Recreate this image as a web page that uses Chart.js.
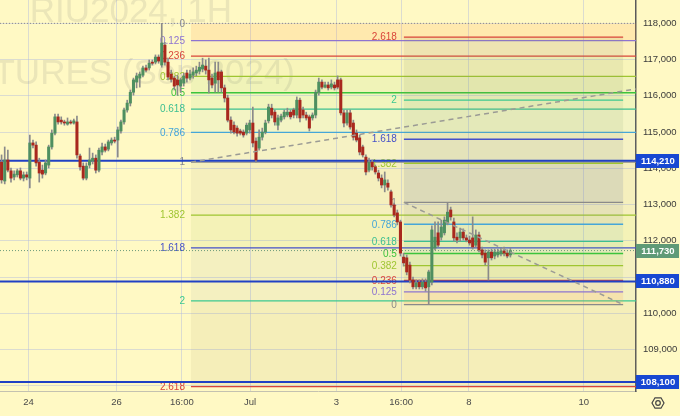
<!DOCTYPE html>
<html>
<head>
<meta charset="utf-8">
<title>RTS futures 1H</title>
<script src="https://cdn.jsdelivr.net/npm/chart.js@4.4.1/dist/chart.umd.min.js"></script>
<style>
  html, body { margin: 0; padding: 0; background: #fff9c4; }
  canvas { display: block; }
</style>
</head>
<body>
<canvas id="chart" width="680" height="416"></canvas>
<script>
// hourly candles (index = candle number)
const opens = [
  114170, 113650, 114230, 113930, 113760, 113820, 113930, 113730, 113820, 113730,
  114700, 114640, 114170, 113950, 113870, 114090, 114590, 114970, 115420, 115330,
  115280, 115220, 115280, 115250, 115280, 114340, 114060, 113730, 114090, 114200,
  114280, 113950, 114450, 114590, 114530, 114700, 114780, 114780, 115030, 115280,
  115610, 115800, 116100, 116380, 116490, 116570, 116770, 116770, 116930, 116930,
  117070, 116850, 117400, 116930, 116600, 116490, 116440, 116270, 116350, 116630,
  116490, 116570, 116630, 116680, 116740, 116820, 116710, 116490, 116350, 116660,
  116660, 116220, 115940, 115330, 115190, 115110, 115030, 115000, 114970, 115060,
  115250, 114750, 114560, 114860, 115000, 115310, 115660, 115550, 115190, 115330,
  115420, 115470, 115550, 115610, 115470, 115880, 115610, 115470, 115420, 115390,
  115470, 116100, 116380, 116240, 116300, 116240, 116300, 116440, 116440, 115530,
  115250, 115530, 115250, 114970, 114840, 114590, 114310, 113950, 114170, 114040,
  113870, 113730, 113540, 113590, 113350, 112990, 112770, 112520, 111550, 111530,
  111330, 110920, 110730, 110860, 110730, 110860, 110730, 110860, 111800, 112220,
  112100, 112220, 112490, 112850, 112520, 112100, 112080, 112240, 112080, 112020,
  112080, 111880, 112160, 111750, 111660, 111530, 111690, 111580, 111610, 111640,
  111720, 111660, 111610
];
const highs = [
  114370, 114590, 114500, 114010, 113930, 113980, 114010, 113900, 113900, 114920,
  114780, 114730, 114280, 114090, 114230, 114640, 115060, 115500, 115500, 115420,
  115330, 115390, 115330, 115360, 115440, 114390, 114150, 114150, 114560, 114420,
  114370, 114560, 114700, 114670, 114780, 114840, 114860, 115140, 115330, 115660,
  115880, 116160, 116490, 116630, 116660, 116820, 116850, 116990, 116990, 117130,
  117130, 118000, 117480, 117040, 116710, 116550, 116570, 116490, 116630, 116710,
  116710, 116770, 116820, 116930, 117040, 116990, 117040, 116600, 116930, 116930,
  116710, 116300, 116020, 115420, 115280, 115170, 115080, 115060, 115250, 115330,
  115690, 114840, 115060, 115110, 115330, 115770, 115770, 115610, 115470, 115500,
  115610, 115660, 115610, 115660, 115970, 115940, 115690, 115550, 115470, 115530,
  116160, 116490, 116440, 116380, 116380, 116440, 116380, 116550, 116490, 115610,
  115610, 115610, 115330, 115060, 114920, 114640, 114370, 114280, 114230, 114090,
  113950, 113820, 113900, 113680, 113400, 113040, 112850, 112570, 111660, 111610,
  111410, 111000, 110920, 110920, 110950, 110950, 111190, 112410, 112520, 112520,
  112570, 112660, 113060, 112930, 112630, 112220, 112350, 112330, 112160, 112130,
  112660, 112300, 112240, 111830, 111750, 111750, 111770, 111770, 111770, 111800,
  111830, 111750, 111800
];
const lows = [
  113590, 113570, 113900, 113620, 113680, 113760, 113680, 113650, 113680, 113460,
  114560, 114060, 113620, 113730, 113820, 114010, 114530, 114920, 115220, 115220,
  115190, 115190, 115220, 115220, 114280, 113950, 113680, 113680, 114010, 114120,
  113870, 113900, 114370, 114450, 114480, 114640, 114700, 114310, 114970, 115220,
  115550, 115720, 116020, 116220, 116240, 116520, 116660, 116710, 116850, 116880,
  116900, 116790, 116850, 116440, 116380, 116160, 116020, 116100, 116270, 116380,
  116440, 116490, 116550, 116600, 116660, 116600, 116080, 116220, 116100, 116100,
  116100, 115830, 115280, 114970, 114950, 114890, 114920, 114860, 114920, 114970,
  114590, 114170, 114500, 114780, 114950, 115250, 115390, 115190, 115060, 115280,
  115360, 115420, 115360, 115390, 115390, 115280, 115390, 115330, 115030, 115330,
  115390, 116020, 116190, 116220, 116160, 116190, 116160, 116190, 115470, 115140,
  115190, 115080, 114780, 114730, 114370, 114310, 113820, 113900, 113950, 113840,
  113650, 113460, 113350, 113400, 112930, 112660, 112440, 111580, 111300, 111060,
  110840, 110670, 110670, 110670, 110670, 110610, 110240, 110780, 111750, 111830,
  112020, 112160, 112440, 112570, 111990, 111940, 111990, 112020, 111970, 111880,
  111770, 111830, 111690, 111530, 111330, 110920, 111470, 111500, 111550, 111580,
  111580, 111530, 111550
];
const closes = [
  113680, 114230, 113950, 113730, 113840, 113930, 113730, 113820, 113760, 114700,
  114640, 114150, 113870, 113840, 114150, 114590, 114970, 115420, 115280, 115280,
  115250, 115280, 115250, 115310, 114370, 114040, 113730, 114060, 114230, 114280,
  113950, 114500, 114590, 114500, 114730, 114780, 114750, 115060, 115280, 115610,
  115800, 116100, 116440, 116550, 116600, 116770, 116710, 116900, 116900, 117070,
  116960, 117460, 116930, 116520, 116460, 116270, 116300, 116440, 116550, 116490,
  116600, 116660, 116710, 116790, 116850, 116710, 116440, 116300, 116630, 116440,
  116220, 115940, 115330, 115060, 115000, 114970, 114970, 114920, 115190, 115250,
  114700, 114230, 114860, 115000, 115250, 115690, 115470, 115280, 115390, 115440,
  115550, 115550, 115420, 115470, 115880, 115390, 115470, 115390, 115110, 115470,
  116100, 116380, 116240, 116300, 116220, 116330, 116220, 116240, 115530, 115250,
  115530, 115140, 114860, 114780, 114450, 114370, 113900, 114170, 114040, 113900,
  113730, 113540, 113680, 113480, 112990, 112710, 112520, 111660, 111390, 111140,
  110920, 110730, 110840, 110730, 110860, 110700, 111140, 112300, 112100, 111880,
  112380, 112570, 112790, 112660, 112080, 112020, 112240, 112080, 112020, 111940,
  111830, 112160, 111750, 111610, 111410, 111690, 111530, 111690, 111690, 111720,
  111660, 111580, 111730
];

// time axis: candle index of each date label
const tickPos = [8.6, 36.6, 57.4, 79.1, 106.6, 127.2, 148.8, 185.4];
const tickLabels = ['24', '26', '16:00', 'Jul', '3', '16:00', '8', '10'];
const priceTicks = [108000, 109000, 110000, 111000, 112000, 113000, 114000, 115000, 116000, 117000, 118000];

// fibonacci levels
const fibRatios = [0, 0.125, 0.236, 0.382, 0.5, 0.618, 0.786, 1, 1.382, 1.618, 2, 2.618];
const fibColors = ['#8a8a8a', '#8e74d0', '#d9453a', '#9fc531', '#3cc43c', '#3cbf90',
                   '#45a6d8', '#8a8a8a', '#9fc531', '#4550c8', '#3cc890', '#d9453a'];
const fib1Anchors = [118000, 114170];   // price at level 0 and level 1
const fib1Span = [60.3, 202];           // candle index range
const fib2Anchors = [110240, 113060];
const fib2Span = [128.1, 197.9];
const fib1Fill = ['rgba(255,150,60,0.16)', 'rgba(230,140,120,0.08)', 'rgba(160,200,80,0.08)',
                  'rgba(110,200,80,0.10)', 'rgba(80,200,120,0.08)', 'rgba(90,180,200,0.07)',
                  'rgba(130,150,200,0.07)', 'rgba(140,140,120,0.09)', 'rgba(150,190,70,0.10)',
                  'rgba(110,140,150,0.08)', 'rgba(160,150,90,0.10)'];
const fib2Fill = ['rgba(255,150,60,0.14)', 'rgba(200,120,130,0.08)', 'rgba(150,200,60,0.12)',
                  'rgba(110,200,80,0.12)', 'rgba(80,190,130,0.10)', 'rgba(90,170,190,0.10)',
                  'rgba(120,130,150,0.12)', 'rgba(110,120,160,0.18)', 'rgba(120,140,130,0.14)',
                  'rgba(120,160,110,0.12)', 'rgba(130,140,100,0.12)'];

// user drawings
const hLines = [114210, 110880, 108100];
const lastPrice = 111730;
const topLine = 118000;
const trend1 = [[60.3, 114170], [202, 116190]];
const trend2 = [[128.1, 113060], [197.9, 110240]];

const FONT = '"Liberation Sans", Arial, sans-serif';
const gridColor = 'rgba(175,185,225,0.45)';
Chart.defaults.font.family = FONT;

function levelPrice(anchors, r) {
    return anchors[0] + r * (anchors[1] - anchors[0]);
}

function hline(ctx, yPix, left, right, color, width, dash) {
    ctx.save();
    ctx.strokeStyle = color;
    ctx.lineWidth = width;
    ctx.setLineDash(dash || []);
    ctx.beginPath();
    ctx.moveTo(left, yPix);
    ctx.lineTo(right, yPix);
    ctx.stroke();
    ctx.restore();
}

function drawFib(ctx, x, y, anchors, span, fills, skipZero, labelGap) {
    const x0 = x.getPixelForValue(span[0]);
    const x1 = x.getPixelForValue(span[1]);
    const ys = fibRatios.map(r => y.getPixelForValue(levelPrice(anchors, r)));
    fills.forEach((c, k) => {
        ctx.fillStyle = c;
        ctx.fillRect(x0, Math.min(ys[k], ys[k + 1]), x1 - x0, Math.abs(ys[k + 1] - ys[k]));
    });
    ctx.font = '10px ' + FONT;
    ctx.textAlign = 'right';
    ctx.textBaseline = 'middle';
    fibRatios.forEach((r, k) => {
        if (!(skipZero && k === 0)) hline(ctx, ys[k], x0, x1, fibColors[k], 1.3);
        ctx.fillStyle = fibColors[k];
        ctx.fillText(String(r), x0 - labelGap, ys[k] + 0.5);
    });
}

// no extra room around the axes, the plot fills the canvas up to the scales
function noPadding(s) {
    s.paddingTop = 0;
    s.paddingBottom = 0;
    s.paddingLeft = 0;
    s.paddingRight = 0;
}

const drawings = {
    id: 'drawings',
    beforeDraw(chart) {
        const ctx = chart.ctx;
        ctx.save();
        ctx.fillStyle = '#fff9c4';
        ctx.fillRect(0, 0, chart.width, chart.height);
        ctx.restore();
    },
    beforeDatasetsDraw(chart) {
        const { ctx, chartArea: a, scales: { x, y } } = chart;
        ctx.save();
        ctx.beginPath();
        ctx.rect(a.left, a.top, a.right - a.left, a.bottom - a.top);
        ctx.clip();

        // watermark
        ctx.fillStyle = 'rgba(120,120,120,0.15)';
        ctx.font = '35px ' + FONT;
        ctx.textAlign = 'right';
        ctx.textBaseline = 'alphabetic';
        ctx.fillText('RIU2024, 1H', 232, 22);
        ctx.fillText('FUTURES (Sep 2024)', 295, 84);

        drawFib(ctx, x, y, fib1Anchors, fib1Span, fib1Fill, true, 6);
        drawFib(ctx, x, y, fib2Anchors, fib2Span, fib2Fill, false, 7);

        hline(ctx, y.getPixelForValue(topLine), a.left, a.right, '#8a8a8a', 1, [1, 2]);
        hline(ctx, y.getPixelForValue(lastPrice), a.left, a.right, '#6b9a7a', 1, [1, 2]);
        hLines.forEach(p => hline(ctx, y.getPixelForValue(p), a.left, a.right, '#2041c4', 2));
        ctx.restore();
    },
    afterDraw(chart) {
        const { ctx, chartArea: a, scales: { y } } = chart;
        ctx.save();
        ctx.font = 'bold 9.5px ' + FONT;
        ctx.textAlign = 'center';
        ctx.textBaseline = 'middle';
        const box = (p, color) => {
            const yp = Math.round(y.getPixelForValue(p));
            ctx.fillStyle = color;
            ctx.fillRect(a.right, yp - 7, chart.width - a.right - 1, 14);
            ctx.fillStyle = '#ffffff';
            ctx.fillText(p.toLocaleString('en-US'), (a.right + chart.width) / 2, yp + 0.5);
        };
        hLines.forEach(p => box(p, '#1848d2'));
        box(lastPrice, '#5f9a77');

        // settings gear in the corner
        const cx = 658, cy = 403;
        ctx.strokeStyle = '#444';
        ctx.lineWidth = 1.2;
        ctx.beginPath();
        for (let k = 0; k < 6; k++) {
            const ang = Math.PI / 3 * k;
            const px = cx + 6 * Math.cos(ang), py = cy + 6 * Math.sin(ang);
            if (k === 0) ctx.moveTo(px, py); else ctx.lineTo(px, py);
        }
        ctx.closePath();
        ctx.stroke();
        ctx.beginPath();
        ctx.arc(cx, cy, 2.3, 0, Math.PI * 2);
        ctx.stroke();
        ctx.restore();
    }
};

const bodies = opens.map((o, i) => ({ x: i, y: [o, closes[i]] }));
const wicks = highs.map((h, i) => ({ x: i, y: [lows[i], h] }));
const bodyColors = opens.map((o, i) => closes[i] >= o ? '#4f8f60' : '#a8281e');

new Chart(document.getElementById('chart'), {
    type: 'bar',
    data: {
        datasets: [
            {
                type: 'line',
                data: trend1.map(p => ({ x: p[0], y: p[1] })),
                borderColor: '#9b9b95', borderWidth: 1.5, borderDash: [5, 4],
                pointRadius: 0, order: 0
            },
            {
                type: 'line',
                data: trend2.map(p => ({ x: p[0], y: p[1] })),
                borderColor: '#9b9b95', borderWidth: 1.5, borderDash: [5, 4],
                pointRadius: 0, order: 0
            },
            {
                data: bodies, backgroundColor: bodyColors,
                barThickness: 2.4, minBarLength: 1, grouped: false, order: 1
            },
            {
                data: wicks, backgroundColor: '#8a8a8a',
                barThickness: 1, grouped: false, order: 2
            }
        ]
    },
    options: {
        responsive: false,
        animation: false,
        devicePixelRatio: 1,
        events: [],
        layout: { padding: 0 },
        plugins: { legend: { display: false }, tooltip: { enabled: false } },
        scales: {
            x: {
                type: 'linear', min: -0.5, max: 202, offset: false,
                afterBuildTicks: s => { s.ticks = tickPos.map(v => ({ value: v })); },
                afterFit: s => { s.height = 25; noPadding(s); },
                grid: { color: gridColor, drawTicks: false, offset: false },
                border: { color: '#c4c2b0' },
                ticks: {
                    autoSkip: false, maxRotation: 0, padding: 6, color: '#4a4a4a',
                    font: { size: 9.5 },
                    callback: (v, i) => tickLabels[i]
                }
            },
            y: {
                position: 'right', min: 107855, max: 118645, beginAtZero: false,
                afterBuildTicks: s => { s.ticks = priceTicks.map(v => ({ value: v })); },
                afterFit: s => { s.width = 44; noPadding(s); },
                grid: { color: gridColor, drawTicks: false },
                border: { color: '#5a5a5a', width: 1.5 },
                ticks: {
                    padding: 7, color: '#3a3a3a', font: { size: 9.5 },
                    callback: v => v.toLocaleString('en-US')
                }
            }
        }
    },
    plugins: [drawings]
});
</script>
</body>
</html>
